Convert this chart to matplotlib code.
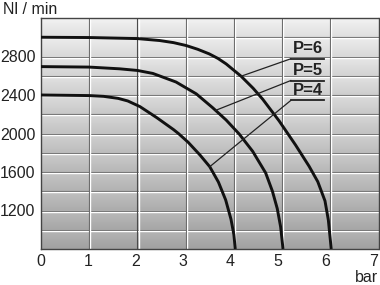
import numpy as np
import matplotlib.pyplot as plt
from matplotlib.transforms import offset_copy, blended_transform_factory

# curves (x in bar, y in Nl/min)
p4_x = [0, 1.0, 1.3, 1.6, 1.8, 2.05, 2.4, 2.75, 2.85, 3.05, 3.3, 3.5, 3.68, 3.83, 3.94, 4.0, 4.03]
p4_y = [2400, 2394, 2386, 2365, 2338, 2280, 2165, 2040, 2000, 1910, 1775, 1655, 1495, 1310, 1110, 950, 800]

p5_x = [0, 1.0, 1.63, 2.0, 2.32, 2.8, 3.22, 3.56, 3.84, 4.11, 4.39, 4.66, 4.8, 4.9, 4.97, 5.02]
p5_y = [2695, 2690, 2672, 2655, 2624, 2535, 2412, 2268, 2140, 1995, 1815, 1590, 1400, 1220, 1030, 800]

p6_x = [0, 1.0, 2.0, 2.46, 2.75, 3.01, 3.25, 3.49, 3.67, 3.84, 4.15, 4.4, 4.6, 4.94, 5.28, 5.56, 5.74, 5.89, 5.96, 6.02]
p6_y = [3000, 2997, 2986, 2966, 2944, 2914, 2875, 2827, 2780, 2723, 2595, 2470, 2355, 2130, 1880, 1660, 1500, 1300, 1100, 800]

labels = ["P=6", "P=5", "P=4"]
label_y = [2776, 2550, 2343]          # underline level of each label
leader_end = [(4.15, 2595), (3.62, 2240), (3.5, 1655)]

x_ticks = [0, 1, 2, 3, 4, 5, 6, 7]
y_ticks = [1200, 1600, 2000, 2400, 2800]

fig = plt.figure(figsize=(3.8, 2.85), dpi=100)
ax = fig.add_axes([41 / 380, 36 / 285, 337.5 / 380, 231 / 285])
ax.set_xlim(0, 7)
ax.set_ylim(800, 3200)

# banded grey background, lighter at top of each band and of the chart
yy = np.linspace(3200, 800, 600)
band = ((yy - 800) % 200) / 200.0
shade = 0.66 + 0.26 * (yy - 800) / 2400 + 0.06 * (band - 0.5)
ax.imshow(shade[:, None], extent=[0, 7, 800, 3200], aspect="auto",
          cmap="gray", vmin=0, vmax=1, zorder=0, interpolation="bilinear")

# embossed grid: dark line plus a white line beside it
white_h = offset_copy(ax.transData, fig=fig, x=0, y=-1.1, units="dots")
white_v = offset_copy(ax.transData, fig=fig, x=1.1, y=0, units="dots")
for gy in range(1000, 3200, 200):
    ax.plot([0, 7], [gy, gy], color="#5a5a5a", lw=0.8, zorder=1)
    ax.plot([0, 7], [gy, gy], color="white", lw=1.0, zorder=1, transform=white_h)
for gx in range(1, 7):
    ax.plot([gx, gx], [800, 3200], color="#4a4a4a", lw=0.8, zorder=1)
    ax.plot([gx, gx], [800, 3200], color="white", lw=1.0, zorder=1, transform=white_v)

for xs, ys in [(p4_x, p4_y), (p5_x, p5_y), (p6_x, p6_y)]:
    ax.plot(xs, ys, color="#111111", lw=2.1, zorder=3, solid_capstyle="butt",
            solid_joinstyle="round")

# labels with underline and leader line
for lab, ly, (ex, ey) in zip(labels, label_y, leader_end):
    ax.text(5.53, ly + 30, lab, ha="center", va="bottom", fontsize=12,
            fontweight="bold", family="Liberation Sans", color="#222222", zorder=4)
    ax.plot([5.18, 5.88], [ly, ly], color="#222222", lw=1.3, zorder=4)
    ax.plot([5.18, ex], [ly, ey], color="#222222", lw=0.9, zorder=4)

ax.set_xticks(x_ticks)
ax.set_xticklabels([])
ax.set_yticks(y_ticks)
ax.tick_params(length=0, labelsize=11.5, pad=4, labelcolor="#222222")
for t in ax.get_yticklabels():
    t.set_family("Liberation Sans")

# x labels sit a little left of their grid lines in the original
xlab_trans = blended_transform_factory(ax.transData, ax.transAxes)
for v in x_ticks:
    tr = offset_copy(xlab_trans, fig=fig, x=-0.7 * v - 0.5, y=-5, units="dots")
    ax.text(v, 0, str(v), transform=tr, ha="center", va="top", fontsize=11.5,
            family="Liberation Sans", color="#222222", clip_on=False)

for s in ax.spines.values():
    s.set_color("#444444")
    s.set_linewidth(1.0)

fig.text(3 / 380, 1 - 10 / 285, "Nl / min", fontsize=11.5, family="Liberation Sans",
         color="#222222", va="center", ha="left")
fig.text(378 / 380, 1 - 278 / 285, "bar", fontsize=11.5, family="Liberation Sans",
         color="#222222", va="center", ha="right")

fig.savefig("out.png", dpi=100)
